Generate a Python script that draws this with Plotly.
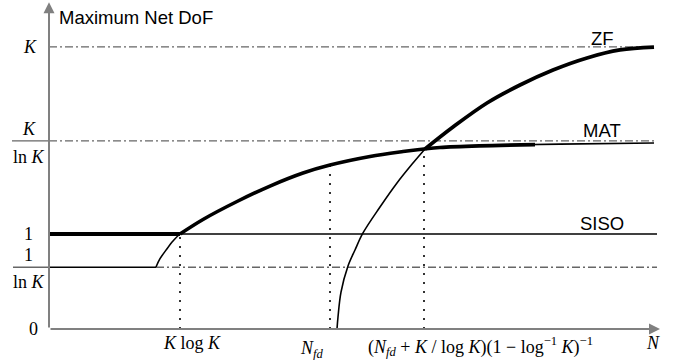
import plotly.graph_objects as go

# ---- schematic levels (y, in units of "1") ----
Y_ZERO = 0.0
Y_INV_LNK = 0.65     # 1/ln K
Y_ONE = 1.0          # 1
Y_K_LNK = 1.98       # K/ln K
Y_K = 2.97           # K

# ---- schematic x positions ----
X_KINK = 10.7        # start of MAT rise
X_KLOGK = 13.1       # K log K
X_NFD = 28.1         # N_fd
X_CROSS = 37.5       # (N_fd + K/logK)(1-log^-1 K)^-1
X_LINE_END = 60.8
X_AXIS_END = 61.1
Y_AXIS_END = 3.44

# MAT curve
mat_x = [10.7, 11.1, 11.7, 12.4, 13.1, 15.4, 18.8, 22.1, 25.4, 28.1, 32.1, 35.4, 37.5, 39.1, 45.1, 51.1, 60.5]
mat_y = [0.653, 0.74, 0.83, 0.926, 1.0, 1.153, 1.342, 1.505, 1.642, 1.726, 1.816, 1.868, 1.895, 1.911, 1.934, 1.946, 1.958]
# thick part of MAT
mat_thick_x = [13.1, 15.4, 18.8, 22.1, 25.4, 28.1, 32.1, 35.4, 37.5, 39.1, 43.0, 48.6]
mat_thick_y = [1.0, 1.153, 1.342, 1.505, 1.642, 1.726, 1.816, 1.868, 1.895, 1.911, 1.928, 1.941]

# ZF curve
zf_x = [28.8, 28.9, 29.2, 29.9, 30.6, 31.4, 33.1, 34.8, 36.4, 37.6]
zf_y = [0.0, 0.126, 0.389, 0.663, 0.832, 1.011, 1.284, 1.537, 1.747, 1.895]
zf_thick_x = [37.6, 40.4, 43.8, 47.1, 50.4, 53.8, 57.1, 60.5]
zf_thick_y = [1.895, 2.126, 2.379, 2.568, 2.726, 2.853, 2.937, 2.968]

BLACK = "#000000"
GREY = "#666666"
AXIS = "#808080"
THIN = 1.6
THICK = 4.2
DASHDOT = "8px,3px,2px,3px"
DOT = "2px,7px"

fig = go.Figure()

def line(xs, ys, color=BLACK, width=THIN, dash="solid", shape="linear"):
    fig.add_trace(go.Scatter(x=xs, y=ys, mode="lines", hoverinfo="skip",
                             line=dict(color=color, width=width, dash=dash, shape=shape,
                                       smoothing=1.0)))

# dash-dot reference levels
line([0, X_LINE_END], [Y_K, Y_K], GREY, 1.3, DASHDOT)
line([0, X_LINE_END], [Y_K_LNK, Y_K_LNK], GREY, 1.3, DASHDOT)
line([X_KINK, X_LINE_END], [Y_INV_LNK, Y_INV_LNK], GREY, 1.3, DASHDOT)
# fraction bars of tick labels
line([-3.7, 0], [Y_K_LNK, Y_K_LNK], GREY, 1.3)
line([-3.6, 0], [Y_INV_LNK, Y_INV_LNK], GREY, 1.3)

# dotted verticals
line([X_KLOGK, X_KLOGK], [Y_ZERO, Y_ONE], BLACK, 1.6, DOT)
line([X_NFD, X_NFD], [Y_ZERO, 1.726], BLACK, 1.6, DOT)
line([X_CROSS, X_CROSS], [Y_ZERO, 1.895], BLACK, 1.6, DOT)

# SISO
line([0, X_LINE_END], [Y_ONE, Y_ONE], BLACK, THIN)
line([0, X_KLOGK], [Y_ONE, Y_ONE], BLACK, THICK)

# MAT
line([0, X_KINK], [Y_INV_LNK, Y_INV_LNK], BLACK, THIN)
line(mat_x, mat_y, BLACK, THIN, shape="spline")
line(mat_thick_x, mat_thick_y, BLACK, 3.6, shape="spline")

# ZF
line(zf_x, zf_y, BLACK, THIN, shape="spline")
line(zf_thick_x, zf_thick_y, BLACK, 3.8, shape="spline")

SERIF = dict(family="Liberation Serif", size=18, color="#000000")
SANS = dict(family="Liberation Sans", size=18.5, color="#000000")

def px_y(p):
    return (329 - p) / 95.0

def px_x(p):
    return (p - 49) / 10.0

ann = []
def text(x, y, t, font, xanchor="center", yanchor="middle"):
    ann.append(dict(x=x, y=y, xref="x", yref="y", text=t, showarrow=False,
                    font=font, xanchor=xanchor, yanchor=yanchor))

# axes with arrows
ann.append(dict(x=X_AXIS_END, y=0, ax=0, ay=0, xref="x", yref="y", axref="x", ayref="y",
                text="", showarrow=True, arrowhead=2, arrowsize=1.1, arrowwidth=2,
                arrowcolor=AXIS, standoff=0, startstandoff=0))
ann.append(dict(x=0, y=Y_AXIS_END, ax=0, ay=0, xref="x", yref="y", axref="x", ayref="y",
                text="", showarrow=True, arrowhead=2, arrowsize=1.1, arrowwidth=2,
                arrowcolor=AXIS, standoff=0, startstandoff=0))

text(px_x(57), px_y(17), "Maximum Net DoF", SANS, xanchor="left")
text(px_x(602), px_y(38), "ZF", SANS)
text(px_x(602), px_y(130), "MAT", SANS)
text(px_x(602), px_y(223), "SISO", SANS)

# y tick labels
text(px_x(30), Y_K, "<i>K</i>", SERIF)
text(px_x(29), px_y(129), "<i>K</i>", SERIF)
text(px_x(29), px_y(157), "ln <i>K</i>", SERIF)
text(px_x(28), Y_ONE, "1", SERIF)
text(px_x(28), px_y(255), "1", SERIF)
text(px_x(29), px_y(282), "ln <i>K</i>", SERIF)
text(px_x(33), Y_ZERO, "0", SERIF)

# x tick labels
text(px_x(192), px_y(343), "<i>K</i> log <i>K</i>", SERIF)
text(px_x(312), px_y(349), "<i>N</i><sub><i>fd</i></sub>", SERIF)
text(px_x(480), px_y(346),
     "(<i>N</i><sub><i>fd</i></sub> + <i>K</i> / log <i>K</i>)(1 − log<sup>−1</sup> <i>K</i>)<sup>−1</sup>",
     SERIF)
text(px_x(653), px_y(343), "<i>N</i>", SERIF)

fig.update_layout(
    width=678, height=360,
    margin=dict(l=0, r=0, t=0, b=0),
    paper_bgcolor="white", plot_bgcolor="white",
    showlegend=False,
    xaxis=dict(range=[px_x(0), px_x(678)], visible=False, fixedrange=True),
    yaxis=dict(range=[px_y(360), px_y(0)], visible=False, fixedrange=True),
    annotations=ann,
)

fig.write_html("out.html", config={"displayModeBar": False},
               post_script="document.body.style.margin='0';document.body.style.overflow='hidden';")
